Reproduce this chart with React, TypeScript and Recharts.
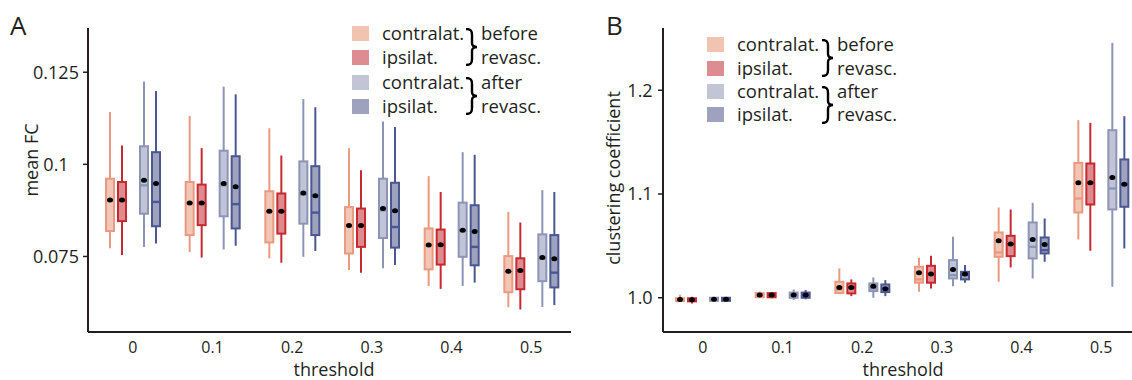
import React from 'react';
import { ComposedChart, Bar, XAxis, YAxis } from 'recharts';

// each entry: [lower whisker, q1, median, q3, upper whisker, mean]
const thresholds = ['0', '0.1', '0.2', '0.3', '0.4', '0.5'];

const fcContraBefore = [
  [0.0772, 0.0819, 0.0903, 0.0961, 0.1142, 0.0903],
  [0.0762, 0.0808, 0.0895, 0.0952, 0.1131, 0.0895],
  [0.0745, 0.0788, 0.0873, 0.0927, 0.1098, 0.0873],
  [0.0713, 0.0758, 0.0834, 0.0884, 0.1044, 0.0834],
  [0.067, 0.0715, 0.0781, 0.0826, 0.0968, 0.0781],
  [0.0612, 0.0653, 0.071, 0.0751, 0.0871, 0.071],
];
const fcIpsiBefore = [
  [0.0754, 0.0846, 0.0903, 0.0952, 0.1051, 0.0903],
  [0.0747, 0.0835, 0.0895, 0.0945, 0.1044, 0.0895],
  [0.0733, 0.0812, 0.0873, 0.0921, 0.1024, 0.0873],
  [0.0706, 0.0776, 0.0834, 0.088, 0.0984, 0.0834],
  [0.0662, 0.0728, 0.0782, 0.0823, 0.0925, 0.0782],
  [0.0606, 0.0661, 0.0712, 0.0745, 0.0842, 0.0712],
];
const fcContraAfter = [
  [0.0776, 0.0866, 0.0943, 0.1049, 0.1225, 0.0957],
  [0.0769, 0.0859, 0.0943, 0.1037, 0.1211, 0.0948],
  [0.0749, 0.0839, 0.0918, 0.1008, 0.1177, 0.0922],
  [0.0718, 0.08, 0.0875, 0.0961, 0.1116, 0.088],
  [0.067, 0.0749, 0.082, 0.0896, 0.1033, 0.0821],
  [0.0613, 0.0683, 0.0745, 0.081, 0.093, 0.0747],
];
const fcIpsiAfter = [
  [0.0785, 0.0832, 0.0898, 0.1033, 0.1199, 0.0948],
  [0.0779, 0.0826, 0.0892, 0.1022, 0.119, 0.0939],
  [0.0765, 0.0808, 0.0869, 0.0995, 0.1155, 0.0915],
  [0.0727, 0.0774, 0.083, 0.095, 0.1101, 0.0874],
  [0.0679, 0.0726, 0.0776, 0.0889, 0.1026, 0.0818],
  [0.0618, 0.0666, 0.0706, 0.0808, 0.0925, 0.0744],
];

const ccContraBefore = [
  [0.996, 0.9968, 0.998, 0.9995, 1.003, 0.9984],
  [1.0, 1.0005, 1.0025, 1.0045, 1.006, 1.0026],
  [1.004, 1.0045, 1.008, 1.0154, 1.0283, 1.01],
  [1.0058, 1.0145, 1.0177, 1.0299, 1.0385, 1.0241],
  [1.0154, 1.0395, 1.0437, 1.0629, 1.087, 1.0549],
  [1.0562, 1.0822, 1.0957, 1.13, 1.1712, 1.1108],
];
const ccIpsiBefore = [
  [0.9945, 0.9965, 0.998, 0.9995, 1.001, 0.998],
  [0.9995, 1.0005, 1.0025, 1.0045, 1.0055, 1.0026],
  [1.0016, 1.0042, 1.01, 1.0138, 1.0177, 1.01],
  [1.009, 1.0145, 1.0228, 1.0308, 1.0405, 1.0228],
  [1.0292, 1.0401, 1.0517, 1.0597, 1.0851, 1.0517],
  [1.0453, 1.0899, 1.1108, 1.1294, 1.1686, 1.1108],
];
const ccContraAfter = [
  [0.9965, 0.997, 0.9985, 1.0, 1.0005, 0.9985],
  [0.998, 1.0, 1.0025, 1.005, 1.008, 1.0026],
  [1.0, 1.0064, 1.009, 1.0138, 1.0196, 1.0112],
  [1.0112, 1.0186, 1.0218, 1.0363, 1.0588, 1.0273],
  [1.0186, 1.0379, 1.0491, 1.0726, 1.0915, 1.0562],
  [1.0106, 1.0851, 1.1053, 1.1615, 1.2457, 1.1159],
];
const ccIpsiAfter = [
  [0.9968, 0.997, 0.9985, 1.0, 1.0003, 0.9985],
  [0.9985, 1.0, 1.0025, 1.005, 1.0075, 1.0026],
  [1.0016, 1.0055, 1.0087, 1.0128, 1.017, 1.0087],
  [1.0145, 1.0177, 1.0222, 1.025, 1.0315, 1.0228],
  [1.0347, 1.0427, 1.0459, 1.0581, 1.0764, 1.0514],
  [1.0475, 1.0877, 1.1095, 1.1333, 1.175, 1.1095],
];

const fcTicks = [0.075, 0.1, 0.125];
const ccTicks = [1.0, 1.1, 1.2];

const series = [
  { key: 'cb', label: 'contralat.', fill: '#f2c6b4', stroke: '#ea9a80', legend: '#f1c4b2' },
  { key: 'ib', label: 'ipsilat.', fill: '#de8b90', stroke: '#c62a31', legend: '#dd8c92' },
  { key: 'ca', label: 'contralat.', fill: '#c1c4d6', stroke: '#8d95b7', legend: '#c2c5d6' },
  { key: 'ia', label: 'ipsilat.', fill: '#9ea2bf', stroke: '#4a5791', legend: '#9ea2bf' },
];

const INK = '#231f20';
const FONT = "'Open Sans', sans-serif";

function buildRows(sets: number[][][]) {
  return thresholds.map((t, i) => ({
    t,
    cb: sets[0][i],
    ib: sets[1][i],
    ca: sets[2][i],
    ia: sets[3][i],
  }));
}

const fcRows = buildRows([fcContraBefore, fcIpsiBefore, fcContraAfter, fcIpsiAfter]);
const ccRows = buildRows([ccContraBefore, ccIpsiBefore, ccContraAfter, ccIpsiAfter]);

function makeBox(s: any) {
  return (props: any) => {
    const { x, y, width, height, payload } = props;
    const v = payload[s.key];
    if (!v) return <g />;
    const [lo, q1, med, q3, hi, mean] = v;
    const top = Math.min(y, y + height);
    const bot = Math.max(y, y + height);
    const py = (val: number) => bot - ((val - lo) / (hi - lo)) * (bot - top);
    const cx = x + width / 2;
    return (
      <g>
        <line x1={cx} x2={cx} y1={py(hi)} y2={py(lo)} stroke={s.stroke} strokeWidth={2} />
        <rect
          x={x + 1}
          y={py(q3)}
          width={width - 2}
          height={Math.max(py(q1) - py(q3), 0.5)}
          fill={s.fill}
          stroke={s.stroke}
          strokeWidth={2}
        />
        <line x1={x + 1} x2={x + width - 1} y1={py(med)} y2={py(med)} stroke={s.stroke} strokeWidth={2.4} />
        <ellipse cx={cx} cy={py(mean)} rx={3} ry={2.5} fill="#000" />
      </g>
    );
  };
}

// y tick labels are centred, not right-aligned, in the reference
function makeYTick(fmt: (v: number) => string, shift: number) {
  return (props: any) => {
    const { x, y, payload } = props;
    return (
      <text x={x - shift} y={y} dy="0.36em" textAnchor="middle" fontSize={18} fill={INK} fontFamily={FONT}>
        {fmt(payload.value)}
      </text>
    );
  };
}

function Panel({ rows, domain, ticks, fmt, left, marginLeft, padLeft, shift }: any) {
  return (
    <div style={{ position: 'absolute', left, top: 0 }}>
      <ComposedChart
        width={580}
        height={380}
        data={rows}
        barGap={2}
        margin={{ top: 28, right: 9, bottom: 18, left: marginLeft }}
      >
        <XAxis
          dataKey="t"
          type="category"
          height={30}
          padding={{ left: padLeft, right: 0 }}
          axisLine={{ stroke: INK, strokeWidth: 2 }}
          tickLine={false}
          tickSize={6}
          tickMargin={4}
          tick={{ fontSize: 16, fill: INK, fontFamily: FONT }}
        />
        <YAxis
          type="number"
          width={50}
          domain={domain}
          ticks={ticks}
          allowDataOverflow
          axisLine={{ stroke: INK, strokeWidth: 2 }}
          tickLine={{ stroke: INK, strokeWidth: 1.5 }}
          tickSize={5}
          tickMargin={2}
          tick={makeYTick(fmt, shift)}
        />
        <Bar dataKey={(d: any) => [d.cb[0], d.cb[4]]} barSize={10} shape={makeBox(series[0])} isAnimationActive={false} />
        <Bar dataKey={(d: any) => [d.ib[0], d.ib[4]]} barSize={10} shape={makeBox(series[1])} isAnimationActive={false} />
        <Bar dataKey={() => null} barSize={8} shape={() => <g />} isAnimationActive={false} />
        <Bar dataKey={(d: any) => [d.ca[0], d.ca[4]]} barSize={10} shape={makeBox(series[2])} isAnimationActive={false} />
        <Bar dataKey={(d: any) => [d.ia[0], d.ia[4]]} barSize={10} shape={makeBox(series[3])} isAnimationActive={false} />
      </ComposedChart>
    </div>
  );
}

function Brace({ left, top }: { left: number; top: number }) {
  return (
    <svg style={{ position: 'absolute', left, top }} width={14} height={38}>
      <path
        d="M1,1 C6,1 7,3 7,7 L7,15 C7,18 9,19 12,19 C9,19 7,20 7,23 L7,31 C7,35 6,37 1,37"
        fill="none"
        stroke="#000"
        strokeWidth={2.4}
      />
    </svg>
  );
}

function LegendBlock({ sqLeft, rowCenters, braceLeft }: any) {
  const textLeft = sqLeft + 30;
  const noteLeft = braceLeft + 16;
  const txt = (l: number, c: number, s: string) => (
    <div
      key={s + c}
      style={{ position: 'absolute', left: l, top: c - 12, fontSize: 18.5, lineHeight: '24px', whiteSpace: 'nowrap' }}
    >
      {s}
    </div>
  );
  return (
    <>
      {series.map((s, i) => (
        <React.Fragment key={s.key}>
          <div
            style={{
              position: 'absolute',
              left: sqLeft,
              top: rowCenters[i] - 7.5,
              width: 17,
              height: 15,
              background: s.legend,
            }}
          />
          {txt(textLeft, rowCenters[i], s.label)}
        </React.Fragment>
      ))}
      <Brace left={braceLeft} top={rowCenters[0] - 5} />
      <Brace left={braceLeft} top={rowCenters[2] - 5} />
      {txt(noteLeft, rowCenters[0], 'before')}
      {txt(noteLeft, rowCenters[1], 'revasc.')}
      {txt(noteLeft, rowCenters[2], 'after')}
      {txt(noteLeft, rowCenters[3], 'revasc.')}
    </>
  );
}

function Title({ cx, text }: { cx: number; text: string }) {
  return (
    <div
      style={{
        position: 'absolute',
        left: cx,
        top: 360,
        transform: 'translateX(-50%)',
        fontSize: 18,
        lineHeight: '18px',
        whiteSpace: 'nowrap',
      }}
    >
      {text}
    </div>
  );
}

function YTitle({ cx, cy, text }: { cx: number; cy: number; text: string }) {
  return (
    <div
      style={{
        position: 'absolute',
        left: cx,
        top: cy,
        transform: 'translate(-50%, -50%) rotate(-90deg)',
        fontSize: 18,
        lineHeight: '22px',
        whiteSpace: 'nowrap',
      }}
    >
      {text}
    </div>
  );
}

export default function App() {
  return (
    <div
      style={{
        position: 'absolute',
        left: 0,
        top: 0,
        width: 1132,
        height: 380,
        overflow: 'hidden',
        background: '#fff',
        fontFamily: FONT,
        color: INK,
      }}
    >
      <Panel rows={fcRows} domain={[0.0545, 0.137]} ticks={fcTicks} fmt={(v: number) => String(v)} left={0} marginLeft={38} padLeft={5} shift={25} />
      <Panel rows={ccRows} domain={[0.967, 1.26]} ticks={ccTicks} fmt={(v: number) => v.toFixed(1)} left={570} marginLeft={43} padLeft={0} shift={16} />

      <div style={{ position: 'absolute', left: 10, top: 10, fontSize: 26, lineHeight: '30px' }}>A</div>
      <div style={{ position: 'absolute', left: 606, top: 10, fontSize: 26, lineHeight: '30px' }}>B</div>

      <YTitle cx={31} cy={160} text="mean FC" />
      <YTitle cx={613} cy={178} text="clustering coefficient" />
      <Title cx={334} text="threshold" />
      <Title cx={903} text="threshold" />

      <LegendBlock sqLeft={352} rowCenters={[33, 57, 82, 106]} braceLeft={465} />
      <LegendBlock sqLeft={707} rowCenters={[44, 68, 91, 114]} braceLeft={821} />
    </div>
  );
}
